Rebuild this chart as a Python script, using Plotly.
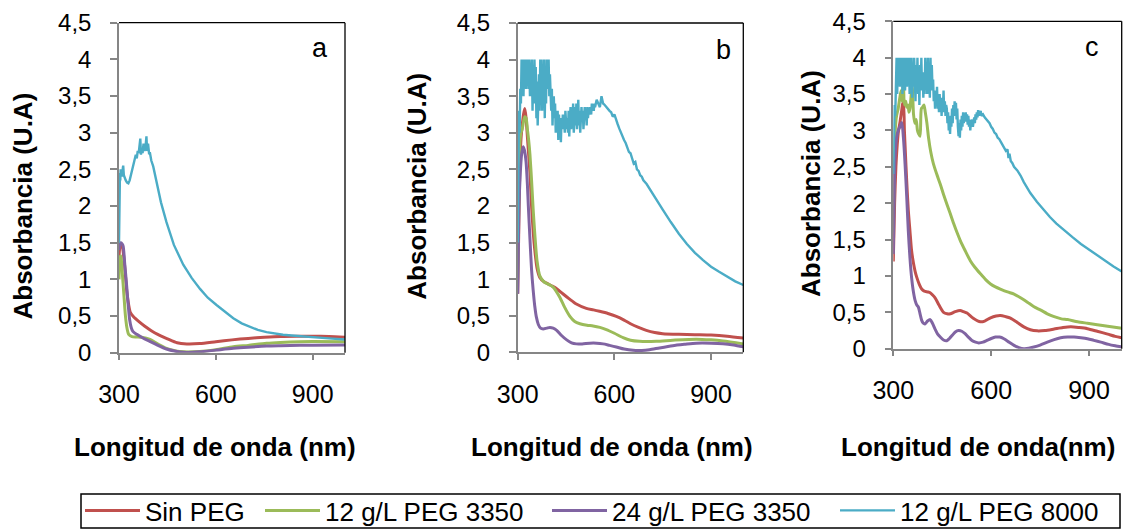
import plotly.graph_objects as go

# ---------------- data ----------------
series_names = ["Sin PEG", "12 g/L PEG 3350", "24 g/L PEG 3350", "12 g/L PEG 8000"]
series_colors = ["#C0504D", "#9BBB59", "#8064A2", "#4BACC6"]
panel_labels = ["a", "b", "c"]
x_tickvals = [300, 600, 900]
x_ticktext = ["300", "600", "900"]
y_tickvals = [0, 0.5, 1, 1.5, 2, 2.5, 3, 3.5, 4, 4.5]
y_ticktext = ["0", "0,5", "1", "1,5", "2", "2,5", "3", "3,5", "4", "4,5"]
x_titles = ["Longitud de onda (nm)", "Longitud de onda (nm)", "Longitud de onda(nm)"]
y_title = "Absorbancia (U.A)"

# Panel a
a_red_nm = [300, 303, 306, 310, 315, 320, 325, 330, 335, 345, 360, 380, 400, 420, 450, 480, 510, 550, 600, 650, 700, 750, 800, 850, 900, 950, 1000]
a_red = [1.3, 1.45, 1.47, 1.45, 1.3, 1.05, 0.8, 0.65, 0.55, 0.49, 0.43, 0.36, 0.30, 0.25, 0.19, 0.135, 0.12, 0.125, 0.15, 0.175, 0.195, 0.21, 0.222, 0.226, 0.225, 0.22, 0.21]
a_green_nm = [300, 303, 306, 310, 315, 320, 325, 330, 340, 355, 370, 396, 420, 447, 470, 488, 550, 600, 654, 700, 757, 800, 860, 900, 1000]
a_green = [1.0, 1.3, 1.32, 1.1, 0.8, 0.5, 0.33, 0.25, 0.22, 0.215, 0.21, 0.18, 0.12, 0.06, 0.03, 0.015, 0.015, 0.04, 0.08, 0.1, 0.128, 0.14, 0.15, 0.152, 0.15]
a_purple_nm = [300, 303, 306, 310, 313, 318, 323, 328, 333, 338, 343, 355, 374, 395, 416, 447, 475, 500, 550, 600, 654, 700, 757, 800, 860, 900, 1000]
a_purple = [1.4, 1.49, 1.5, 1.48, 1.45, 1.2, 0.95, 0.68, 0.45, 0.34, 0.29, 0.25, 0.2, 0.155, 0.11, 0.05, 0.02, 0.005, 0.012, 0.035, 0.06, 0.075, 0.09, 0.095, 0.1, 0.103, 0.105]
a_cyan_nm = [300, 301, 302, 303, 304, 305, 306, 308, 310, 312, 313, 315, 318, 321, 325, 329, 333, 337, 341, 345, 349, 352, 355, 358, 361, 364, 366, 368, 370, 373, 376, 379, 382, 385, 387, 390, 393, 396, 400, 406, 415, 430, 447, 470, 499, 525, 551, 575, 602, 630, 654, 680, 705, 730, 757, 785, 808, 835, 860, 900, 950, 1000]
a_cyan = [1.5, 1.9, 2.2, 2.45, 2.35, 2.5, 2.42, 2.48, 2.4, 2.52, 2.55, 2.42, 2.38, 2.35, 2.32, 2.31, 2.35, 2.42, 2.5, 2.55, 2.62, 2.7, 2.65, 2.75, 2.72, 2.82, 2.92, 2.7, 2.78, 2.72, 2.85, 2.75, 2.8, 2.95, 2.75, 2.85, 2.72, 2.72, 2.62, 2.54, 2.35, 2.05, 1.78, 1.47, 1.2, 1.02, 0.87, 0.75, 0.65, 0.55, 0.47, 0.4, 0.35, 0.31, 0.28, 0.26, 0.245, 0.235, 0.225, 0.21, 0.195, 0.18]

# Panel b
b_red_nm = [300, 303, 306, 310, 314, 318, 322, 326, 330, 334, 338, 343, 348, 353, 360, 369, 380, 390, 405, 421, 440, 460, 482, 513, 535, 554, 580, 606, 630, 650, 675, 699, 725, 750, 800, 850, 900, 950, 1000]
b_red = [0.8, 1.6, 2.4, 2.9, 3.1, 3.25, 3.33, 3.2, 2.95, 2.7, 2.45, 2.0, 1.65, 1.4, 1.15, 1.02, 0.97, 0.945, 0.91, 0.87, 0.8, 0.73, 0.66, 0.6, 0.58, 0.56, 0.53, 0.49, 0.44, 0.39, 0.34, 0.3, 0.27, 0.255, 0.245, 0.24, 0.235, 0.22, 0.195]
b_green_nm = [300, 303, 306, 310, 314, 318, 322, 326, 330, 334, 338, 343, 348, 353, 360, 369, 380, 390, 400, 410, 420, 431, 445, 462, 477, 493, 515, 534, 555, 575, 600, 627, 650, 678, 730, 781, 854, 900, 937, 1000]
b_green = [1.0, 2.0, 2.8, 3.0, 3.05, 3.15, 3.22, 3.2, 3.05, 2.9, 2.7, 2.35, 1.95, 1.62, 1.25, 1.04, 0.97, 0.94, 0.92, 0.89, 0.83, 0.75, 0.62, 0.49, 0.42, 0.39, 0.37, 0.36, 0.34, 0.31, 0.26, 0.2, 0.165, 0.15, 0.15, 0.165, 0.18, 0.17, 0.155, 0.115]
b_purple_nm = [300, 302, 304, 308, 312, 317, 321, 326, 330, 333, 338, 343, 348, 353, 358, 364, 371, 379, 390, 400, 410, 421, 436, 452, 467, 482, 500, 524, 545, 565, 585, 606, 630, 658, 685, 709, 740, 781, 820, 854, 900, 937, 970, 1000]
b_purple = [0.8, 1.4, 2.0, 2.45, 2.7, 2.81, 2.76, 2.6, 2.3, 2.0, 1.55, 1.13, 0.85, 0.63, 0.48, 0.38, 0.33, 0.32, 0.33, 0.34, 0.33, 0.3, 0.23, 0.17, 0.13, 0.115, 0.115, 0.125, 0.125, 0.115, 0.095, 0.073, 0.045, 0.027, 0.025, 0.035, 0.06, 0.09, 0.11, 0.125, 0.125, 0.118, 0.1, 0.075]
b_cyan_nm = [300, 302, 304, 306, 308, 310, 312, 314, 316, 318, 320, 322, 324, 326, 328, 330, 332, 334, 336, 338, 340, 342, 344, 346, 348, 350, 352, 354, 356, 358, 360, 362, 364, 366, 368, 370, 372, 374, 376, 378, 380, 382, 384, 386, 388, 390, 392, 394, 396, 398, 400, 402, 404, 406, 408, 410, 412, 414, 416, 418, 420, 422, 424, 426, 428, 430, 432, 434, 436, 438, 440, 442, 444, 446, 448, 450, 452, 454, 456, 458, 460, 462, 464, 466, 468, 470, 472, 474, 476, 478, 480, 482, 484, 486, 488, 490, 492, 494, 496, 498, 500, 502, 504, 506, 508, 510, 512, 514, 516, 518, 520, 522, 524, 526, 528, 530, 532, 534, 536, 538, 540, 545, 550, 555, 560, 565, 570, 575, 580, 585, 590, 595, 600, 605, 610, 615, 620, 625, 630, 635, 640, 645, 650, 655, 660, 665, 670, 675, 680, 685, 690, 700, 725, 750, 775, 800, 825, 850, 875, 900, 925, 950, 975, 1000]
b_cyan = [1.5, 2.6, 3.3, 3.0, 3.6, 3.4, 4.0, 3.7, 4.0, 3.5, 4.0, 3.8, 4.0, 3.6, 4.0, 3.9, 4.0, 3.6, 4.0, 3.5, 3.9, 3.7, 4.0, 3.3, 3.8, 3.4, 4.0, 3.6, 3.9, 3.2, 3.7, 3.1, 3.6, 3.8, 3.3, 4.0, 3.5, 4.0, 3.3, 3.9, 3.6, 4.0, 3.2, 3.8, 3.4, 4.0, 3.7, 3.6, 4.0, 3.5, 3.8, 3.45, 3.3, 3.6, 3.1, 3.4, 3.5, 3.2, 3.4, 3.0, 3.3, 3.15, 3.3, 2.9, 3.25, 3.1, 3.2, 2.87, 3.2, 3.05, 3.25, 3.1, 3.2, 3.0, 3.3, 3.15, 3.05, 3.2, 3.0, 3.3, 2.95, 3.2, 3.35, 3.05, 3.3, 3.1, 3.4, 3.0, 3.2, 3.35, 3.1, 3.4, 3.05, 3.3, 3.45, 3.1, 3.3, 3.0, 3.25, 3.35, 3.15, 3.3, 3.05, 3.25, 3.35, 3.2, 3.3, 3.1, 3.35, 3.2, 3.3, 3.25, 3.35, 3.3, 3.25, 3.4, 3.3, 3.35, 3.3, 3.4, 3.35, 3.45, 3.4, 3.35, 3.5, 3.4, 3.38, 3.35, 3.33, 3.3, 3.28, 3.22, 3.25, 3.17, 3.12, 3.06, 3.0, 2.96, 2.9, 2.86, 2.8, 2.74, 2.72, 2.65, 2.58, 2.6, 2.5, 2.48, 2.42, 2.4, 2.35, 2.3, 2.12, 1.95, 1.78, 1.62, 1.48, 1.36, 1.26, 1.17, 1.1, 1.03, 0.97, 0.92]

# Panel c
c_red_nm = [300, 304, 308, 312, 316, 320, 325, 329, 331, 334, 337, 341, 346, 351, 356, 362, 367, 372, 380, 387, 395, 405, 413, 420, 428, 440, 454, 465, 475, 490, 505, 515, 526, 545, 567, 580, 598, 615, 628, 645, 659, 680, 700, 720, 741, 765, 793, 820, 844, 870, 895, 925, 957, 980, 1000]
c_red = [1.2, 2.0, 2.5, 2.8, 3.0, 3.1, 3.25, 3.37, 3.38, 3.0, 2.7, 2.31, 1.9, 1.62, 1.35, 1.17, 1.06, 0.98, 0.88, 0.82, 0.79, 0.78, 0.77, 0.74, 0.7, 0.6, 0.5, 0.48, 0.48, 0.51, 0.526, 0.51, 0.49, 0.42, 0.37, 0.38, 0.425, 0.45, 0.457, 0.44, 0.42, 0.36, 0.3, 0.26, 0.245, 0.25, 0.27, 0.29, 0.3, 0.29, 0.275, 0.24, 0.2, 0.17, 0.15]
c_green_nm = [300, 303, 306, 310, 315, 320, 324, 327, 331, 334, 338, 341, 345, 348, 351, 355, 358, 362, 366, 370, 374, 378, 382, 386, 390, 394, 398, 403, 408, 415, 423, 433, 444, 454, 464, 475, 485, 495, 505, 520, 536, 550, 567, 583, 598, 613, 628, 650, 670, 690, 711, 730, 752, 772, 793, 815, 834, 865, 895, 925, 957, 1000]
c_green = [1.6, 2.6, 3.0, 3.2, 3.3, 3.45, 3.55, 3.4, 3.68, 3.35, 3.4, 3.32, 3.35, 3.25, 3.3, 3.5, 3.6, 3.22, 3.1, 3.15, 3.0, 2.95, 2.92, 3.3, 3.32, 3.35, 3.25, 3.1, 2.9, 2.7, 2.54, 2.4, 2.26, 2.12, 1.99, 1.85, 1.72, 1.6, 1.49, 1.35, 1.21, 1.12, 1.03, 0.95, 0.89, 0.85, 0.82, 0.78, 0.75, 0.7, 0.64, 0.58, 0.53, 0.48, 0.44, 0.41, 0.4, 0.37, 0.35, 0.33, 0.31, 0.28]
c_purple_nm = [300, 303, 305, 310, 315, 320, 326, 331, 336, 341, 346, 351, 356, 361, 367, 372, 377, 382, 387, 392, 397, 405, 413, 420, 428, 436, 444, 454, 464, 472, 480, 490, 500, 510, 520, 530, 541, 552, 562, 575, 587, 600, 613, 626, 639, 655, 670, 685, 700, 715, 731, 750, 772, 793, 813, 834, 854, 875, 895, 915, 936, 960, 980, 1000]
c_purple = [1.3, 2.2, 2.6, 2.9, 3.0, 3.05, 3.11, 2.9, 2.54, 2.1, 1.62, 1.25, 0.98, 0.8, 0.66, 0.6, 0.57, 0.48, 0.39, 0.35, 0.34, 0.38, 0.4, 0.35, 0.27, 0.2, 0.16, 0.12, 0.11, 0.14, 0.18, 0.23, 0.25, 0.24, 0.206, 0.16, 0.114, 0.09, 0.08, 0.09, 0.114, 0.14, 0.16, 0.16, 0.137, 0.09, 0.046, 0.015, 0.0, 0.005, 0.023, 0.05, 0.09, 0.125, 0.15, 0.16, 0.16, 0.15, 0.137, 0.115, 0.09, 0.06, 0.04, 0.023]
c_cyan_nm = [300, 302, 304, 306, 308, 310, 312, 314, 316, 318, 320, 322, 324, 326, 328, 330, 332, 334, 336, 338, 340, 342, 344, 346, 348, 350, 352, 354, 356, 358, 360, 362, 364, 366, 368, 370, 372, 374, 376, 378, 380, 382, 384, 386, 388, 390, 392, 394, 396, 398, 400, 402, 404, 406, 408, 410, 412, 414, 416, 418, 420, 422, 424, 426, 428, 430, 432, 434, 436, 438, 440, 442, 444, 446, 448, 450, 452, 454, 456, 458, 460, 462, 464, 466, 468, 470, 472, 474, 476, 478, 480, 482, 484, 486, 488, 490, 492, 494, 496, 498, 500, 502, 504, 506, 508, 510, 512, 514, 516, 518, 520, 522, 524, 526, 528, 530, 532, 534, 536, 538, 540, 542, 544, 546, 548, 550, 552, 554, 556, 558, 560, 562, 564, 566, 568, 570, 575, 580, 585, 590, 595, 600, 605, 610, 615, 620, 625, 630, 635, 640, 645, 650, 653, 656, 660, 665, 670, 680, 690, 700, 720, 740, 760, 780, 800, 825, 850, 875, 900, 925, 950, 975, 1000]
c_cyan = [2.4, 3.0, 3.35, 3.2, 3.6, 4.0, 3.5, 4.0, 3.7, 4.0, 3.6, 4.0, 3.8, 4.0, 3.5, 4.0, 3.7, 4.0, 3.55, 3.95, 4.0, 3.6, 4.0, 3.75, 4.0, 3.5, 4.0, 3.8, 4.0, 3.45, 3.9, 3.6, 4.0, 3.7, 3.4, 3.9, 3.6, 4.0, 3.5, 3.8, 3.35, 3.9, 3.6, 4.0, 3.55, 3.8, 3.45, 3.7, 3.5, 4.0, 3.6, 3.85, 3.5, 4.0, 3.6, 3.7, 3.45, 4.0, 3.55, 3.9, 3.6, 3.7, 3.4, 3.55, 3.3, 3.5, 3.35, 3.6, 3.3, 3.45, 3.25, 3.5, 3.3, 3.45, 3.2, 3.4, 3.3, 3.55, 3.25, 3.4, 3.2, 3.35, 3.3, 3.1, 3.25, 3.0, 3.15, 2.95, 3.2, 3.05, 3.3, 3.1, 3.35, 3.2, 3.4, 3.25, 3.38, 3.15, 3.3, 3.05, 2.92, 3.1, 2.9, 3.15, 3.0, 3.2, 3.05, 3.25, 3.1, 3.22, 3.15, 3.25, 3.12, 3.22, 3.08, 3.2, 3.05, 3.15, 3.0, 3.12, 3.08, 3.15, 3.05, 3.12, 3.18, 3.1, 3.22, 3.15, 3.25, 3.18, 3.28, 3.2, 3.25, 3.22, 3.27, 3.2, 3.22, 3.18, 3.15, 3.12, 3.1, 3.05, 3.02, 2.97, 2.95, 2.9, 2.88, 2.84, 2.8, 2.77, 2.72, 2.74, 2.62, 2.68, 2.58, 2.55, 2.5, 2.45, 2.38, 2.29, 2.14, 2.02, 1.91, 1.81, 1.72, 1.62, 1.53, 1.44, 1.36, 1.28, 1.2, 1.13, 1.06]

panels = [
    [(a_red_nm, a_red), (a_green_nm, a_green), (a_purple_nm, a_purple), (a_cyan_nm, a_cyan)],
    [(b_red_nm, b_red), (b_green_nm, b_green), (b_purple_nm, b_purple), (b_cyan_nm, b_cyan)],
    [(c_red_nm, c_red), (c_green_nm, c_green), (c_purple_nm, c_purple), (c_cyan_nm, c_cyan)],
]

# ---------------- layout geometry (pixels) ----------------
W, H = 1128, 529
plot_boxes = [(119, 22.7, 345, 352.7), (517.7, 23, 743.3, 352.3), (893.3, 21.3, 1121.7, 348.7)]
letter_pos = [(320, 48), (723, 50), (1092, 47)]
xtitle_pos = [(215, 447), (612, 447), (978, 447)]
ytitle_pos = [(22, 206.5), (416.7, 186), (811, 184)]
legend_x = [80, 260, 547, 835]
legend_top = 487
FONT = "Liberation Sans, Arial, sans-serif"
AXIS_GRAY = "#868686"

def px_x(x):
    return x / W

def px_y(y):
    return 1 - y / H

fig = go.Figure()
legend_ids = ["legend", "legend2", "legend3", "legend4"]

for p, series in enumerate(panels):
    xa = "x" if p == 0 else f"x{p+1}"
    ya = "y" if p == 0 else f"y{p+1}"
    for s, (nm, vals) in enumerate(series):
        is_cyan = s == 3
        fig.add_trace(go.Scatter(
            x=nm, y=vals, mode="lines", name=series_names[s],
            xaxis=xa, yaxis=ya,
            line=dict(color=series_colors[s], width=2.4 if is_cyan else 3,
                      shape="linear" if is_cyan else "spline",
                      smoothing=0.7 if not is_cyan else None),
            showlegend=(p == 0), legend=legend_ids[s],
            hoverinfo="skip",
        ))

layout = dict(
    width=W, height=H, margin=dict(l=0, r=0, t=0, b=0, autoexpand=False),
    paper_bgcolor="white", plot_bgcolor="white",
    font=dict(family=FONT, color="black"),
)

shapes = []
annotations = []
for p, (x0, y0, x1, y1) in enumerate(plot_boxes):
    sfx = "" if p == 0 else str(p + 1)
    layout["xaxis" + sfx] = dict(
        domain=[px_x(x0), px_x(x1)], range=[300, 1000], anchor="y" + sfx,
        tickvals=x_tickvals, ticktext=x_ticktext, showgrid=False, zeroline=False,
        showline=True, linecolor=AXIS_GRAY, linewidth=1.5,
        ticks="outside", ticklen=6, tickwidth=1.5, tickcolor=AXIS_GRAY,
        tickfont=dict(size=25, family=FONT, color="black"), ticklabelstandoff=13,
        automargin=False,
    )
    layout["yaxis" + sfx] = dict(
        domain=[px_y(y1), px_y(y0)], range=[0, 4.5], anchor="x" + sfx,
        tickvals=y_tickvals, ticktext=y_ticktext, showgrid=False, zeroline=False,
        showline=True, linecolor=AXIS_GRAY, linewidth=1.5,
        ticks="outside", ticklen=7, tickwidth=1.5, tickcolor=AXIS_GRAY,
        tickfont=dict(size=24, family=FONT, color="black"), ticklabelstandoff=14,
        automargin=False,
    )
    # black frame on top and right
    shapes.append(dict(type="line", xref="paper", yref="paper",
                       x0=px_x(x0), x1=px_x(x1), y0=px_y(y0), y1=px_y(y0),
                       line=dict(color="black", width=1.3)))
    shapes.append(dict(type="line", xref="paper", yref="paper",
                       x0=px_x(x1), x1=px_x(x1), y0=px_y(y0), y1=px_y(y1),
                       line=dict(color="black", width=1.3)))
    lx, ly = letter_pos[p]
    annotations.append(dict(text=panel_labels[p], x=px_x(lx), y=px_y(ly), xref="paper", yref="paper",
                            showarrow=False, xanchor="center", yanchor="middle",
                            font=dict(size=27, family=FONT, color="black")))
    tx, ty = xtitle_pos[p]
    annotations.append(dict(text="<b>" + x_titles[p] + "</b>", x=px_x(tx), y=px_y(ty), xref="paper", yref="paper",
                            showarrow=False, xanchor="center", yanchor="middle",
                            font=dict(size=26, family=FONT, color="black")))
    vx, vy = ytitle_pos[p]
    annotations.append(dict(text="<b>" + y_title + "</b>", x=px_x(vx), y=px_y(vy), xref="paper", yref="paper",
                            showarrow=False, xanchor="center", yanchor="middle", textangle=-90,
                            font=dict(size=26, family=FONT, color="black")))

# legend frame
shapes.append(dict(type="rect", xref="paper", yref="paper",
                   x0=px_x(81), x1=px_x(1120), y0=px_y(528), y1=px_y(494),
                   line=dict(color="black", width=1.5), fillcolor="rgba(0,0,0,0)"))

for i, lid in enumerate(legend_ids):
    layout[lid] = dict(
        x=px_x(legend_x[i]), y=px_y(legend_top), xanchor="left", yanchor="top",
        orientation="h", bgcolor="rgba(0,0,0,0)", borderwidth=0,
        font=dict(size=26, family=FONT, color="black"), itemwidth=55,
    )

layout["shapes"] = shapes
layout["annotations"] = annotations
fig.update_layout(**layout)

fig.write_html("out.html")
